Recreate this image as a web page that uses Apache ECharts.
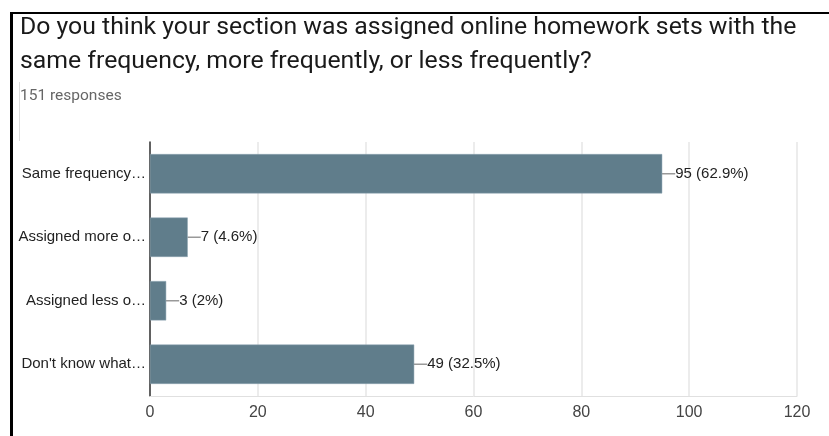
<!DOCTYPE html>
<html>
<head>
<meta charset="utf-8">
<script src="https://cdn.jsdelivr.net/npm/echarts@6/dist/echarts.min.js"></script>
<style>
  html, body { margin: 0; padding: 0; background: #fff; }
  #chart { width: 829px; height: 436px; }
</style>
</head>
<body>
<div id="chart"></div>
<script>
const categories = ['Same frequency…', 'Assigned more o…', 'Assigned less o…', "Don't know what…"]
const counts = [95, 7, 3, 49]
const percents = ['62.9%', '4.6%', '2%', '32.5%']
const titleText = 'Do you think your section was assigned online homework sets with the\nsame frequency, more frequently, or less frequently?'
const responsesText = '151 responses'

const chart = echarts.init(document.getElementById('chart'))

chart.setOption({
  animation: false,
  title: [{
    text: titleText,
    left: 15,
    top: 6,
    textStyle: {
      fontFamily: 'Roboto',
      fontSize: 24.8,
      fontWeight: 'normal',
      color: '#1a1a1a',
      lineHeight: 34
    }
  }, {
    text: responsesText,
    left: 15,
    top: 83,
    textStyle: {
      fontFamily: 'Roboto',
      fontSize: 15.5,
      fontWeight: 'normal',
      color: '#666'
    }
  }],
  graphic: [
    { type: 'line', shape: { x1: 10, y1: 13, x2: 829, y2: 13 }, style: { stroke: '#000', lineWidth: 2 } },
    { type: 'line', shape: { x1: 11.5, y1: 12, x2: 11.5, y2: 436 }, style: { stroke: '#000', lineWidth: 3 } },
    { type: 'line', shape: { x1: 19.5, y1: 82, x2: 19.5, y2: 141 }, style: { stroke: '#ddd', lineWidth: 1 } }
  ],
  grid: {
    left: 150,
    right: 32,
    top: 142,
    bottom: 40
  },
  xAxis: {
    type: 'value',
    min: 0,
    max: 120,
    interval: 20,
    axisLine: { show: true, lineStyle: { color: '#e0e0e0' } },
    axisTick: { show: false },
    axisLabel: {
      fontFamily: 'Liberation Sans',
      fontSize: 16,
      color: '#444',
      margin: 9
    },
    splitLine: { lineStyle: { color: '#e6e6e6', width: 1.5 } }
  },
  yAxis: {
    type: 'category',
    inverse: true,
    data: categories,
    axisLine: { show: true, lineStyle: { color: '#333', width: 1.5 } },
    axisTick: { show: false },
    axisLabel: {
      fontFamily: 'Liberation Sans',
      fontSize: 15,
      color: '#222',
      margin: 4
    }
  },
  series: [{
    type: 'bar',
    data: counts,
    barWidth: '62%',
    itemStyle: { color: '#607d8b', borderColor: '#8aa3b0', borderWidth: 0.5 },
    label: {
      show: true,
      position: 'right',
      distance: 0,
      fontFamily: 'Liberation Sans',
      fontSize: 15,
      color: '#222',
      formatter: (p) => p.value + ' (' + percents[p.dataIndex] + ')'
    },
    labelLayout: { dx: 13 },
    labelLine: { show: true, lineStyle: { color: '#999', width: 1.5 } }
  }]
})
</script>
</body>
</html>
